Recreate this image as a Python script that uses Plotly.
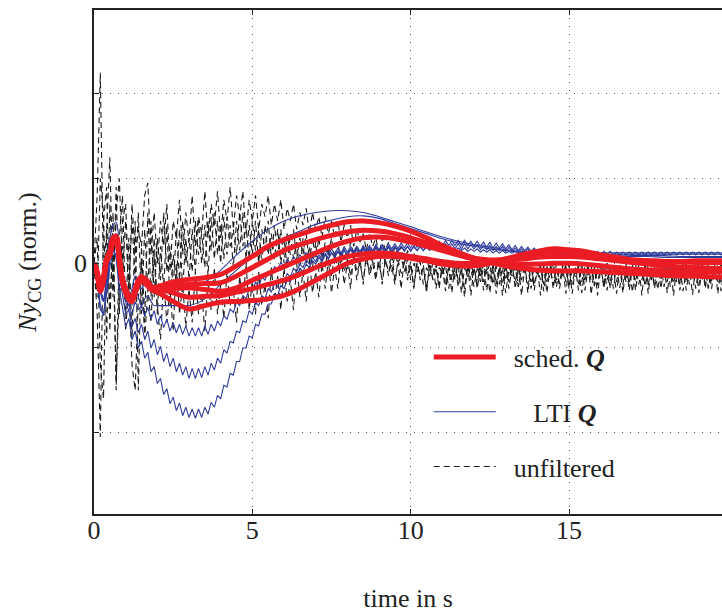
import plotly.graph_objects as go

# ---------------- time grids ----------------
T_FAST = [round(0.1 * i, 1) for i in range(201)]
T_SLOW = [round(0.1 * i, 1) for i in range(20)] + [2.0 + 0.5 * i for i in range(37)]

# ---------------- scheduled Q (red) ----------------
RED_1 = [0.0, -0.1, -0.28, -0.16, 0.06, 0.14, 0.3, 0.32, 0.06, -0.18,
         -0.3, -0.38, -0.4, -0.3, -0.2, -0.16, -0.18, -0.22, -0.27, -0.29,
         -0.28, -0.22, -0.19, -0.17, -0.13, -0.03, 0.08, 0.2, 0.28, 0.34,
         0.4, 0.45, 0.49, 0.5, 0.48, 0.44, 0.38, 0.3, 0.21, 0.13,
         0.06, 0.01, -0.03, -0.06, -0.08, -0.09, -0.09, -0.09, -0.1, -0.11,
         -0.12, -0.13, -0.14, -0.15, -0.15, -0.16, -0.16]
RED_2 = [0.0, -0.12, -0.3, -0.18, 0.04, 0.12, 0.28, 0.3, 0.05, -0.2,
         -0.32, -0.4, -0.42, -0.32, -0.22, -0.18, -0.2, -0.24, -0.29, -0.31,
         -0.3, -0.26, -0.25, -0.24, -0.23, -0.15, -0.05, 0.05, 0.15, 0.22,
         0.28, 0.33, 0.37, 0.39, 0.38, 0.35, 0.3, 0.24, 0.17, 0.1,
         0.05, 0.02, 0.0, -0.01, -0.01, 0.0, 0.0, -0.01, -0.03, -0.05,
         -0.07, -0.08, -0.09, -0.1, -0.1, -0.1, -0.1]
RED_3 = [0.0, -0.11, -0.31, -0.2, 0.03, 0.1, 0.26, 0.3, 0.04, -0.21,
         -0.33, -0.41, -0.43, -0.33, -0.23, -0.19, -0.21, -0.25, -0.3, -0.32,
         -0.32, -0.3, -0.29, -0.31, -0.33, -0.29, -0.2, -0.12, -0.04, 0.04,
         0.12, 0.2, 0.26, 0.3, 0.31, 0.29, 0.25, 0.2, 0.15, 0.1,
         0.06, 0.04, 0.04, 0.05, 0.07, 0.08, 0.08, 0.07, 0.05, 0.03,
         0.01, -0.01, -0.03, -0.04, -0.05, -0.06, -0.06]
RED_4 = [0.0, -0.13, -0.32, -0.19, 0.05, 0.11, 0.27, 0.29, 0.03, -0.22,
         -0.34, -0.42, -0.44, -0.34, -0.24, -0.2, -0.22, -0.26, -0.3, -0.31,
         -0.3, -0.35, -0.4, -0.39, -0.38, -0.34, -0.3, -0.25, -0.2, -0.13,
         -0.05, 0.02, 0.08, 0.11, 0.12, 0.11, 0.08, 0.05, 0.02, 0.0,
         0.0, 0.02, 0.05, 0.09, 0.12, 0.14, 0.14, 0.12, 0.09, 0.06,
         0.04, 0.03, 0.02, 0.02, 0.01, 0.01, 0.01]
RED_5 = [0.0, -0.12, -0.33, -0.21, 0.02, 0.1, 0.25, 0.28, 0.02, -0.23,
         -0.35, -0.43, -0.45, -0.35, -0.25, -0.21, -0.23, -0.27, -0.31, -0.33,
         -0.34, -0.45, -0.54, -0.5, -0.46, -0.45, -0.44, -0.42, -0.38, -0.3,
         -0.2, -0.1, 0.0, 0.05, 0.08, 0.08, 0.06, 0.03, -0.01, -0.03,
         -0.03, 0.0, 0.05, 0.1, 0.14, 0.17, 0.16, 0.14, 0.1, 0.07,
         0.04, 0.03, 0.02, 0.02, 0.03, 0.03, 0.03]

# ---------------- LTI Q (blue) ----------------
BLUE_A = [0.0, -0.05, -0.2, -0.1, 0.1, 0.3, 0.45, 0.48, 0.2, -0.1,
          -0.3, -0.4, -0.3, -0.15, -0.2, -0.3, -0.25, -0.2, -0.3, -0.35,
          -0.35, -0.3, -0.28, -0.22, -0.08, 0.1, 0.26, 0.4, 0.5, 0.56,
          0.6, 0.62, 0.62, 0.6, 0.55, 0.49, 0.43, 0.37, 0.31, 0.26,
          0.22, 0.19, 0.16, 0.14, 0.13, 0.12, 0.11, 0.1, 0.1, 0.09,
          0.09, 0.09, 0.09, 0.08, 0.08, 0.08, 0.08]
BLUE_B = [0.0, -0.1, -0.35, -0.45, -0.2, 0.05, 0.2, 0.25, 0.05, -0.2,
          -0.45, -0.55, -0.4, -0.3, -0.4, -0.5, -0.42, -0.38, -0.45, -0.5,
          -0.5, -0.5, -0.5, -0.42, -0.25, -0.08, 0.08, 0.2, 0.3, 0.38,
          0.46, 0.51, 0.55, 0.56, 0.53, 0.47, 0.41, 0.35, 0.29, 0.24,
          0.2, 0.17, 0.15, 0.13, 0.12, 0.11, 0.1, 0.09, 0.09, 0.08,
          0.08, 0.08, 0.07, 0.07, 0.07, 0.07, 0.07]
BLUE_C = [0.0, -0.1, -0.3, -0.45, -0.2, 0.1, 0.3, 0.35, 0.1, -0.2,
          -0.4, -0.5, -0.6, -0.45, -0.55, -0.5, -0.62, -0.52, -0.66, -0.56,
          -0.72, -0.62, -0.76, -0.66, -0.8, -0.7, -0.82, -0.72, -0.84, -0.74,
          -0.86, -0.76, -0.86, -0.76, -0.86, -0.74, -0.84, -0.72, -0.8, -0.68,
          -0.74, -0.62, -0.66, -0.54, -0.58, -0.46, -0.5, -0.38, -0.42, -0.3,
          -0.34, -0.22, -0.28, -0.16, -0.2, -0.1, -0.14, -0.04, -0.08, 0.01,
          -0.04, 0.05, 0.0, 0.08, 0.03, 0.1, 0.05, 0.12, 0.07, 0.13,
          0.08, 0.15, 0.09, 0.16, 0.1, 0.17, 0.11, 0.18, 0.12, 0.19,
          0.13, 0.2, 0.14, 0.2, 0.14, 0.21, 0.15, 0.21, 0.15, 0.22,
          0.16, 0.22, 0.16, 0.23, 0.17, 0.23, 0.17, 0.24, 0.18, 0.24,
          0.18, 0.25, 0.19, 0.25, 0.19, 0.26, 0.2, 0.26, 0.2, 0.26,
          0.2, 0.27, 0.21, 0.27, 0.21, 0.27, 0.21, 0.27, 0.21, 0.26,
          0.2, 0.26, 0.2, 0.25, 0.19, 0.25, 0.18, 0.24, 0.18, 0.23,
          0.17, 0.22, 0.16, 0.21, 0.15, 0.2, 0.15, 0.19, 0.14, 0.18,
          0.13, 0.17, 0.13, 0.17, 0.12, 0.16, 0.12, 0.16, 0.12, 0.15,
          0.11, 0.15, 0.11, 0.15, 0.11, 0.14, 0.11, 0.14, 0.1, 0.14,
          0.1, 0.14, 0.1, 0.14, 0.1, 0.13, 0.1, 0.13, 0.1, 0.13,
          0.1, 0.13, 0.1, 0.13, 0.1, 0.13, 0.1, 0.13, 0.1, 0.13,
          0.1, 0.13, 0.1, 0.13, 0.1, 0.13, 0.1, 0.13, 0.1, 0.13,
          0.1, 0.13, 0.1, 0.13, 0.1, 0.13, 0.1, 0.13, 0.1, 0.13,
          0.1]
BLUE_D = [0.0, -0.2, -0.55, -0.6, -0.35, -0.05, 0.15, 0.1, -0.15, -0.4,
          -0.6, -0.55, -0.75, -0.65, -0.82, -0.72, -0.9, -0.8, -1.0, -0.9,
          -1.08, -0.98, -1.16, -1.06, -1.22, -1.12, -1.28, -1.18, -1.32, -1.22,
          -1.36, -1.24, -1.36, -1.24, -1.35, -1.22, -1.32, -1.18, -1.26, -1.12,
          -1.18, -1.02, -1.06, -0.92, -0.94, -0.8, -0.82, -0.68, -0.7, -0.56,
          -0.6, -0.46, -0.5, -0.38, -0.42, -0.3, -0.34, -0.24, -0.28, -0.18,
          -0.22, -0.12, -0.16, -0.06, -0.1, -0.01, -0.05, 0.04, -0.01, 0.07,
          0.02, 0.1, 0.04, 0.12, 0.06, 0.13, 0.07, 0.14, 0.08, 0.15,
          0.09, 0.16, 0.1, 0.16, 0.1, 0.17, 0.11, 0.17, 0.11, 0.18,
          0.12, 0.18, 0.12, 0.19, 0.13, 0.19, 0.13, 0.2, 0.14, 0.2,
          0.14, 0.21, 0.15, 0.21, 0.15, 0.22, 0.16, 0.22, 0.16, 0.23,
          0.17, 0.23, 0.17, 0.23, 0.17, 0.23, 0.17, 0.23, 0.17, 0.22,
          0.17, 0.22, 0.16, 0.21, 0.16, 0.21, 0.15, 0.2, 0.15, 0.2,
          0.14, 0.19, 0.14, 0.18, 0.13, 0.17, 0.13, 0.17, 0.12, 0.16,
          0.12, 0.15, 0.12, 0.14, 0.11, 0.14, 0.11, 0.13, 0.11, 0.13,
          0.1, 0.12, 0.1, 0.12, 0.1, 0.12, 0.1, 0.12, 0.1, 0.12,
          0.1, 0.11, 0.1, 0.11, 0.1, 0.11, 0.1, 0.11, 0.1, 0.11,
          0.1, 0.11, 0.1, 0.11, 0.1, 0.11, 0.1, 0.11, 0.1, 0.11,
          0.1, 0.11, 0.1, 0.11, 0.1, 0.11, 0.1, 0.11, 0.1, 0.11,
          0.1, 0.11, 0.1, 0.11, 0.1, 0.11, 0.1, 0.11, 0.1, 0.11,
          0.1]
BLUE_E = [0.0, -0.15, -0.5, -0.62, -0.3, 0.05, 0.2, 0.05, -0.3, -0.55,
          -0.75, -0.65, -0.9, -0.8, -1.0, -0.92, -1.12, -1.05, -1.28, -1.22,
          -1.42, -1.36, -1.55, -1.48, -1.66, -1.58, -1.74, -1.65, -1.8, -1.7,
          -1.82, -1.72, -1.83, -1.72, -1.82, -1.7, -1.78, -1.64, -1.7, -1.56,
          -1.6, -1.44, -1.46, -1.3, -1.32, -1.16, -1.16, -1.0, -1.0, -0.86,
          -0.88, -0.72, -0.74, -0.6, -0.6, -0.48, -0.48, -0.36, -0.38, -0.26,
          -0.3, -0.2, -0.22, -0.12, -0.16, -0.06, -0.1, -0.01, -0.05, 0.03,
          -0.01, 0.07, 0.02, 0.1, 0.05, 0.12, 0.07, 0.14, 0.09, 0.16,
          0.1, 0.17, 0.11, 0.18, 0.12, 0.19, 0.13, 0.19, 0.13, 0.2,
          0.14, 0.2, 0.14, 0.2, 0.14, 0.2, 0.15, 0.2, 0.15, 0.2,
          0.15, 0.19, 0.15, 0.19, 0.15, 0.19, 0.15, 0.19, 0.15, 0.19,
          0.15, 0.18, 0.15, 0.18, 0.15, 0.18, 0.15, 0.18, 0.14, 0.17,
          0.14, 0.17, 0.13, 0.16, 0.13, 0.16, 0.12, 0.15, 0.12, 0.15,
          0.12, 0.14, 0.12, 0.14, 0.12, 0.13, 0.12, 0.13, 0.12, 0.13,
          0.12, 0.13, 0.12, 0.13, 0.12, 0.13, 0.12, 0.13, 0.12, 0.13,
          0.12, 0.13, 0.12, 0.13, 0.12, 0.13, 0.12, 0.13, 0.12, 0.13,
          0.12, 0.13, 0.12, 0.13, 0.12, 0.13, 0.12, 0.13, 0.12, 0.13,
          0.12, 0.13, 0.12, 0.13, 0.12, 0.13, 0.12, 0.13, 0.12, 0.13,
          0.12, 0.13, 0.12, 0.13, 0.12, 0.13, 0.12, 0.13, 0.12, 0.13,
          0.12, 0.13, 0.12, 0.13, 0.12, 0.13, 0.12, 0.13, 0.12, 0.13,
          0.12]

# ---------------- unfiltered (black dashed) ----------------
BLACK_1 = [0.0, 0.8, 2.25, -0.2, 0.4, 1.25, -0.3, 0.6, 1.0, -0.1,
           0.5, -0.4, 0.7, 0.1, 0.4, 0.2, 0.8, 0.95, 0.1, 0.6,
           0.0, 0.5, 0.2, 0.7, -0.1, 0.5, 0.3, 0.75, 0.1, 0.6,
           0.25, 0.8, 0.2, 0.55, 0.35, 0.85, 0.3, 0.7, 0.45, 0.85,
           0.3, 0.75, 0.5, 0.9, 0.4, 0.8, 0.55, 0.85, 0.35, 0.75,
           0.5, 0.8, 0.4, 0.7, 0.55, 0.8, 0.45, 0.7, 0.5, 0.75,
           0.4, 0.65, 0.5, 0.7, 0.4, 0.6, 0.45, 0.65, 0.35, 0.6,
           0.4, 0.55, 0.3, 0.55, 0.35, 0.5, 0.3, 0.5, 0.25, 0.45,
           0.3, 0.45, 0.2, 0.4, 0.25, 0.35, 0.15, 0.35, 0.2, 0.3,
           0.1, 0.3, 0.15, 0.25, 0.05, 0.2, 0.1, 0.2, 0.0, 0.15,
           0.05, 0.12, -0.05, 0.1, 0.0, 0.08, -0.1, 0.05, -0.05, 0.05,
           -0.15, 0.02, -0.08, 0.0, -0.2, -0.02, -0.1, 0.02, -0.18, -0.04,
           -0.1, 0.0, -0.22, -0.05, -0.12, 0.0, -0.25, -0.04, -0.1, 0.0,
           -0.2, -0.05, -0.12, 0.0, -0.28, -0.06, -0.1, 0.0, -0.22, -0.05,
           -0.12, -0.02, -0.25, -0.04, -0.1, 0.0, -0.2, -0.06, -0.15, -0.02,
           -0.28, -0.05, -0.12, -0.02, -0.22, -0.04, -0.1, 0.0, -0.25, -0.06,
           -0.12, -0.02, -0.2, -0.05, -0.3, -0.05, -0.1, -0.02, -0.22, -0.04,
           -0.12, 0.0, -0.25, -0.06, -0.15, -0.02, -0.2, -0.04, -0.1, -0.02,
           -0.28, -0.05, -0.12, -0.02, -0.22, -0.06, -0.1, 0.0, -0.25, -0.04,
           -0.15, -0.02, -0.2, -0.05, -0.3, -0.06, -0.1, -0.02, -0.22, -0.05,
           -0.1]
BLACK_2 = [0.0, -0.6, -2.05, 0.5, 0.9, -0.8, 0.6, -1.5, 0.3, 0.8,
           -0.6, 0.3, -0.9, 0.5, -1.5, 0.2, -0.7, 0.6, -0.4, 0.3,
           -0.6, 0.2, -0.3, 0.45, -0.5, 0.1, -0.2, 0.4, -0.3, 0.3,
           -0.2, 0.4, -0.1, 0.5, 0.0, 0.45, -0.15, 0.55, 0.05, 0.5,
           0.0, 0.55, 0.1, 0.45, -0.05, 0.5, 0.15, 0.6, 0.05, 0.45,
           0.1, 0.5, 0.0, 0.4, 0.15, 0.5, 0.05, 0.45, 0.1, 0.4,
           0.0, 0.35, 0.1, 0.4, 0.05, 0.3, 0.1, 0.35, 0.0, 0.3,
           0.05, 0.3, 0.0, 0.25, 0.1, 0.3, 0.05, 0.25, 0.0, 0.2,
           0.05, 0.25, 0.1, 0.2, 0.0, 0.2, 0.05, 0.15, 0.0, 0.2,
           -0.05, 0.15, 0.0, 0.1, -0.1, 0.1, 0.0, 0.08, -0.1, 0.05,
           -0.2, 0.0, -0.1, 0.02, -0.25, -0.05, -0.15, 0.0, -0.3, -0.05,
           -0.12, -0.02, -0.3, -0.08, -0.15, -0.02, -0.35, -0.06, -0.12, -0.04,
           -0.28, -0.06, -0.15, -0.02, -0.32, -0.08, -0.12, -0.03, -0.25, -0.05,
           -0.35, -0.08, -0.15, -0.04, -0.28, -0.06, -0.12, -0.02, -0.3, -0.07,
           -0.14, -0.03, -0.33, -0.07, -0.18, -0.04, -0.28, -0.06, -0.12, -0.03,
           -0.3, -0.06, -0.16, -0.04, -0.35, -0.08, -0.14, -0.03, -0.27, -0.06,
           -0.15, -0.04, -0.32, -0.07, -0.13, -0.03, -0.29, -0.06, -0.17, -0.04,
           -0.34, -0.07, -0.14, -0.03, -0.27, -0.06, -0.16, -0.04, -0.31, -0.07,
           -0.13, -0.03, -0.28, -0.06, -0.18, -0.04, -0.33, -0.07, -0.14, -0.03,
           -0.3, -0.06, -0.15, -0.04, -0.29, -0.06, -0.12, -0.03, -0.33, -0.07,
           -0.15]
BLACK_3 = [0.0, 0.3, -1.2, -1.6, 0.4, -0.5, 0.2, -1.4, -0.3, 0.2,
           -0.8, -0.2, -1.2, -1.5, -0.4, 0.0, -0.9, -0.3, -0.7, 0.1,
           -0.5, -0.9, -0.2, -0.7, -0.3, -0.8, 0.0, -0.6, -0.25, -0.75,
           -0.3, -0.7, -0.1, -0.6, -0.35, -0.8, -0.2, -0.55, -0.05, -0.6,
           -0.25, -0.65, -0.1, -0.5, -0.3, -0.7, -0.15, -0.5, 0.0, -0.55,
           -0.2, -0.6, -0.1, -0.5, -0.25, -0.65, -0.05, -0.45, -0.15, -0.55,
           -0.05, -0.45, -0.2, -0.55, 0.0, -0.4, -0.1, -0.45, 0.05, -0.35,
           -0.1, -0.4, 0.0, -0.3, 0.05, -0.35, -0.05, -0.3, 0.1, -0.25,
           0.0, -0.3, 0.1, -0.2, 0.05, -0.25, 0.12, -0.15, 0.0, -0.2,
           0.1, -0.25, 0.05, -0.15, 0.12, -0.2, 0.0, -0.3, 0.08, -0.15,
           0.02, -0.3, 0.05, -0.2, -0.02, -0.35, 0.0, -0.2, -0.05, -0.3,
           0.0, -0.25, -0.05, -0.35, 0.0, -0.2, -0.08, -0.3, -0.02, -0.38,
           -0.05, -0.25, 0.0, -0.32, -0.06, -0.2, -0.02, -0.36, -0.05, -0.25,
           0.0, -0.3, -0.06, -0.22, -0.02, -0.38, -0.05, -0.25, 0.0, -0.32,
           -0.06, -0.2, -0.02, -0.35, -0.05, -0.26, 0.0, -0.3, -0.06, -0.22,
           -0.02, -0.36, -0.05, -0.24, 0.0, -0.32, -0.06, -0.2, -0.02, -0.38,
           -0.05, -0.26, 0.0, -0.3, -0.06, -0.22, -0.02, -0.35, -0.05, -0.24,
           0.0, -0.32, -0.06, -0.2, -0.02, -0.36, -0.05, -0.26, 0.0, -0.3,
           -0.06, -0.22, -0.02, -0.38, -0.05, -0.25, 0.0, -0.32, -0.06, -0.2,
           -0.02, -0.35, -0.05, -0.24, 0.0, -0.3, -0.06, -0.22, -0.02, -0.36,
           -0.05]
BLACK_4 = [0.0, -0.4, 1.0, 0.6, -0.9, 0.7, -0.4, 0.9, -0.6, 0.5,
           0.7, -0.3, 0.5, -0.2, 0.6, -0.6, 0.4, -0.3, 0.5, -0.4,
           0.3, -0.2, 0.6, -0.1, 0.2, -0.3, 0.4, -0.2, 0.5, 0.0,
           0.3, -0.1, 0.5, 0.1, 0.35, -0.05, 0.5, 0.15, 0.6, 0.1,
           0.45, 0.05, 0.55, 0.2, 0.4, 0.1, 0.6, 0.2, 0.45, 0.05,
           0.5, 0.15, 0.4, 0.0, 0.45, 0.1, 0.35, 0.05, 0.4, 0.0,
           0.3, -0.05, 0.35, 0.05, 0.25, -0.1, 0.3, 0.0, 0.2, -0.05,
           0.25, -0.1, 0.15, -0.05, 0.2, -0.15, 0.1, -0.05, 0.15, -0.1,
           0.05, -0.15, 0.1, -0.1, 0.0, -0.2, 0.05, -0.1, 0.08, -0.15,
           0.0, -0.2, 0.05, -0.1, -0.02, -0.25, 0.04, -0.12, 0.0, -0.2,
           -0.02, -0.28, 0.0, -0.15, -0.05, -0.3, -0.02, -0.18, 0.0, -0.25,
           -0.05, -0.33, -0.02, -0.2, 0.0, -0.28, -0.05, -0.4, -0.02, -0.2,
           0.0, -0.3, -0.05, -0.22, -0.02, -0.35, 0.0, -0.25, -0.05, -0.38,
           -0.02, -0.22, 0.0, -0.3, -0.05, -0.2, -0.02, -0.35, 0.0, -0.26,
           -0.05, -0.38, -0.02, -0.22, 0.0, -0.3, -0.05, -0.24, -0.02, -0.36,
           0.0, -0.25, -0.05, -0.32, -0.02, -0.22, 0.0, -0.37, -0.05, -0.26,
           -0.02, -0.3, 0.0, -0.21, -0.05, -0.36, -0.02, -0.25, 0.0, -0.32,
           -0.05, -0.22, -0.02, -0.38, 0.0, -0.26, -0.05, -0.3, -0.02, -0.2,
           0.0, -0.35, -0.05, -0.24, -0.02, -0.32, 0.0, -0.22, -0.05, -0.37,
           -0.02, -0.26, 0.0, -0.3, -0.05, -0.21, -0.02, -0.36, 0.0, -0.25,
           -0.05]

X_TICKS = [0, 5, 10, 15]
Y_TICKS = [-2, -1, 0, 1, 2]
Y_TICKTEXT = ["", "", "0", "", ""]

FONT = "Liberation Serif"
RED = "#ec1c24"
BLUE = "#2f3c9c"
BLACK = "#1c1c1c"

fig = go.Figure()

for i, ys in enumerate([BLACK_1, BLACK_2, BLACK_3, BLACK_4]):
    fig.add_trace(go.Scatter(
        x=T_FAST, y=ys, mode="lines",
        line=dict(color=BLACK, width=1.1, dash="6px,4px"),
        name="&nbsp;&nbsp;unfiltered", legendgroup="k", legendrank=3,
        showlegend=(i == 0)))

for i, ys in enumerate([BLUE_A, BLUE_B]):
    fig.add_trace(go.Scatter(
        x=T_SLOW, y=ys, mode="lines", line_shape="spline",
        line=dict(color=BLUE, width=1.1),
        name="&nbsp;&nbsp;&nbsp;&nbsp;&nbsp;LTI <b><i>Q</i></b>",
        legendgroup="b", legendrank=2, showlegend=(i == 0)))
for ys in [BLUE_C, BLUE_D, BLUE_E]:
    fig.add_trace(go.Scatter(
        x=T_FAST, y=ys, mode="lines",
        line=dict(color=BLUE, width=1.1),
        legendgroup="b", showlegend=False))

for i, ys in enumerate([RED_1, RED_2, RED_3, RED_4, RED_5]):
    fig.add_trace(go.Scatter(
        x=T_SLOW, y=ys, mode="lines", line_shape="spline",
        line=dict(color=RED, width=5),
        name="&nbsp;&nbsp;sched. <b><i>Q</i></b>", legendgroup="r", legendrank=1,
        showlegend=(i == 0)))

fig.update_layout(
    width=722, height=616,
    margin=dict(l=94, r=0, t=10, b=102),
    paper_bgcolor="white", plot_bgcolor="white",
    font=dict(family=FONT, size=26, color="#222"),
    showlegend=True,
    legend=dict(x=0.533, y=0.358, xanchor="left", yanchor="top",
                bgcolor="rgba(0,0,0,0)", borderwidth=0,
                traceorder="grouped", tracegroupgap=18,
                itemwidth=62, font=dict(family=FONT, size=26, color="#222")),
    xaxis=dict(range=[0, 19.83], tickvals=X_TICKS, showgrid=True,
               gridcolor="#555", griddash="1px,7px", gridwidth=1,
               zeroline=False, showline=True, linecolor="#222", linewidth=1.5,
               mirror="ticks", ticks="inside", ticklen=5, tickcolor="#222",
               automargin=False, ticklabelstandoff=-8,
               title=dict(text="time in s", standoff=45,
                          font=dict(family=FONT, size=26))),
    yaxis=dict(range=[-2.96, 2.99], tickvals=Y_TICKS, ticktext=Y_TICKTEXT,
               showgrid=True, gridcolor="#555", griddash="1px,7px", gridwidth=1,
               zeroline=False, showline=True, linecolor="#222", linewidth=1.5,
               ticks="inside", ticklen=5, tickcolor="#222",
               automargin=False,
               title=dict(text="<i>Ny</i><sub>CG</sub> (norm.)", standoff=30,
                          font=dict(family=FONT, size=26))),
)

fig.write_html("out.html", config={"displayModeBar": False},
               post_script="document.body.style.margin='0';")
